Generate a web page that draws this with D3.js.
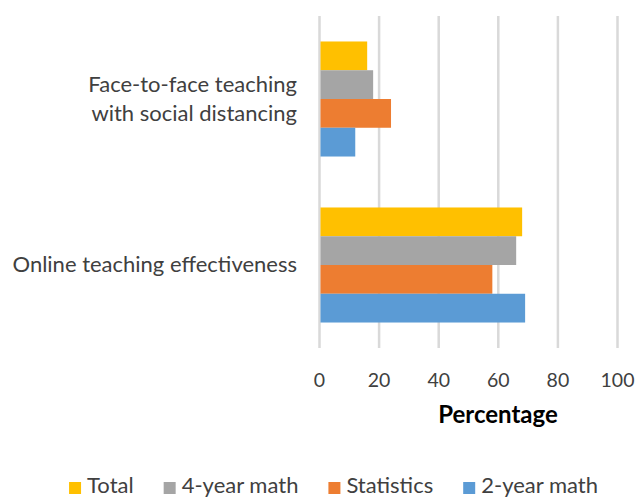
<!DOCTYPE html>
<html>
<head>
<meta charset="utf-8">
<script src="https://cdn.jsdelivr.net/npm/d3@7"></script>
<style>
  body { margin: 0; background: #fff; }
  text { font-family: Lato, "Noto Sans", sans-serif; fill: #404040; }
</style>
</head>
<body>
<svg></svg>
<script>
// categories, top to bottom
const categories = ['Face-to-face teaching\nwith social distancing', 'Online teaching effectiveness'];
// series, drawn top to bottom inside each group
const series = ['Total', '4-year math', 'Statistics', '2-year math'];
const colors = ['#FFC000', '#A5A5A5', '#ED7D31', '#5B9BD5'];
// values per series, same order as categories
const totalVals = [16, 68];
const fourYearVals = [18, 66];
const statsVals = [24, 58];
const twoYearVals = [12, 69];
const xTicks = [0, 20, 40, 60, 80, 100];

const values = [totalVals, fourYearVals, statsVals, twoYearVals];

const width = 638;
const height = 498;
const margin = { top: 16, right: 20, bottom: 150, left: 319.5 };

const svg = d3.select('svg')
  .attr('width', width)
  .attr('height', height);

const x = d3.scaleLinear().domain([0, 100]).range([margin.left, 617.5]);
const y = d3.scaleBand()
  .domain(categories)
  .range([margin.top, height - margin.bottom])
  .paddingInner(0.307)
  .paddingOuter(0.1535);
const ySub = d3.scaleBand().domain(series).range([0, y.bandwidth()]);

// vertical gridlines
svg.append('g')
  .selectAll('line')
  .data(xTicks)
  .enter()
  .append('line')
  .attr('x1', d => x(d))
  .attr('x2', d => x(d))
  .attr('y1', margin.top)
  .attr('y2', height - margin.bottom)
  .attr('stroke', '#d9d9d9')
  .attr('stroke-width', 2.5);

// bars
const rows = [];
categories.forEach((c, ci) => {
  series.forEach((s, si) => {
    rows.push({ cat: c, ser: s, val: values[si][ci], color: colors[si] });
  });
});

svg.append('g')
  .selectAll('rect')
  .data(rows)
  .enter()
  .append('rect')
  .attr('x', x(0) + 1)
  .attr('y', d => y(d.cat) + ySub(d.ser))
  .attr('width', d => x(d.val) - x(0) - 1)
  .attr('height', ySub.bandwidth())
  .attr('fill', d => d.color);

// x axis tick labels
svg.append('g')
  .selectAll('text')
  .data(xTicks)
  .enter()
  .append('text')
  .attr('x', d => x(d))
  .attr('y', 387)
  .attr('text-anchor', 'middle')
  .style('font-size', '19.5px')
  .text(d => d);

svg.append('text')
  .attr('x', 498)
  .attr('y', 423)
  .attr('text-anchor', 'middle')
  .style('font-size', '24px')
  .style('font-weight', 'bold')
  .style('fill', '#000')
  .text('Percentage');

// category labels, right aligned
categories.forEach(c => {
  const lines = c.split('\n');
  const mid = y(c) + y.bandwidth() / 2;
  const lineH = 29;
  const t = svg.append('text')
    .attr('text-anchor', 'end')
    .style('font-size', '22px');
  lines.forEach((ln, i) => {
    t.append('tspan')
      .attr('x', 297)
      .attr('y', mid + 7 + (i - (lines.length - 1) / 2) * lineH)
      .text(ln);
  });
});

// legend
const legend = svg.append('g');
const items = legend.selectAll('g')
  .data(series)
  .enter()
  .append('g');
items.append('rect')
  .attr('width', 12)
  .attr('height', 12)
  .attr('y', 482)
  .attr('fill', (d, i) => colors[i]);
items.append('text')
  .attr('x', 18)
  .attr('y', 493)
  .style('font-size', '22px')
  .text(d => d);

let pos = 0;
const offsets = [];
items.each(function () {
  offsets.push(pos);
  const w = d3.select(this).select('text').node().getComputedTextLength();
  pos += 18 + w + 30;
});
const legendW = pos - 30;
const startX = 333.5 - legendW / 2;
items.attr('transform', (d, i) => `translate(${startX + offsets[i]},0)`);
</script>
</body>
</html>
